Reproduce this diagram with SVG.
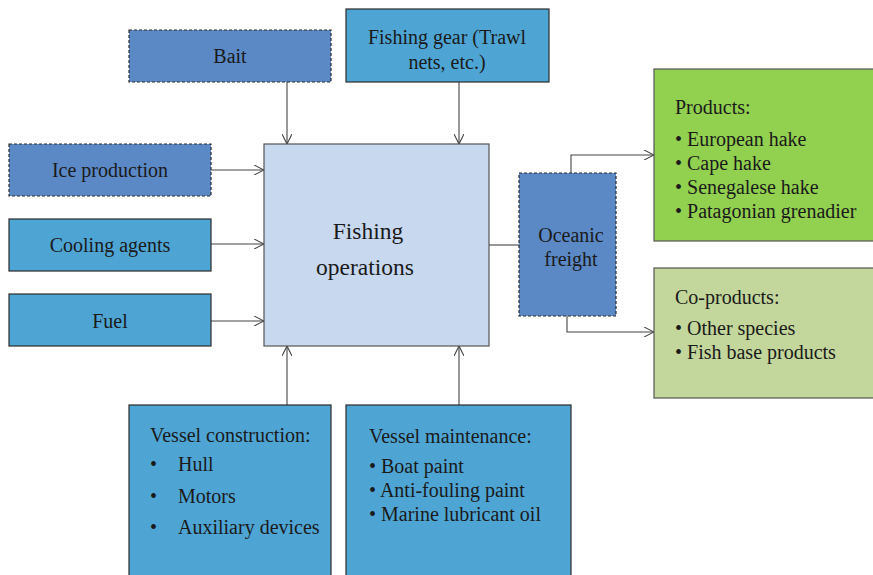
<svg xmlns="http://www.w3.org/2000/svg" width="873" height="575" viewBox="0 0 873 575">
  <defs>
    <style>
      .box { stroke: #2b2b2b; stroke-width: 1.2; }
      .solid { fill: #4ea5d4; }
      .dash { fill: #5b89c6; stroke-dasharray: 3 2; }
      .core { fill: #c7d8ef; stroke: #555; stroke-width: 1.2; }
      .prod { fill: #92d050; stroke: #555; stroke-width: 1.2; }
      .coprod { fill: #c3d69b; stroke: #555; stroke-width: 1.2; }
      text { font-family: "Liberation Serif", "Times New Roman", serif; fill: #1a1a1a; font-size: 20px; }
      .c { text-anchor: middle; }
      .big { font-size: 23.5px; }
      .link { fill: none; stroke: #444; stroke-width: 1.1; }
    </style>
    <marker id="arrow" viewBox="0 0 10 10" refX="10" refY="5" markerWidth="10" markerHeight="10" markerUnits="userSpaceOnUse" orient="auto">
      <path d="M0,0 L10,5 L0,10" fill="none" stroke="#444" stroke-width="1.1"/>
    </marker>
  </defs>

  <g id="connectors">
    <line class="link" x1="287" y1="82" x2="287" y2="144" marker-end="url(#arrow)"/>
    <line class="link" x1="459" y1="82" x2="459" y2="144" marker-end="url(#arrow)"/>
    <line class="link" x1="211" y1="170" x2="264" y2="170" marker-end="url(#arrow)"/>
    <line class="link" x1="211" y1="244" x2="264" y2="244" marker-end="url(#arrow)"/>
    <line class="link" x1="211" y1="321" x2="264" y2="321" marker-end="url(#arrow)"/>
    <line class="link" x1="287" y1="405" x2="287" y2="346" marker-end="url(#arrow)"/>
    <line class="link" x1="459" y1="405" x2="459" y2="346" marker-end="url(#arrow)"/>
    <line class="link" x1="489" y1="245" x2="519" y2="245"/>
    <polyline class="link" points="571,173 571,155 654,155" marker-end="url(#arrow)"/>
    <polyline class="link" points="567,316 567,332 654,332" marker-end="url(#arrow)"/>
  </g>

  <g id="bait">
    <rect class="box dash" x="129" y="30" width="202" height="52"/>
    <text class="c" x="230" y="63">Bait</text>
  </g>

  <g id="fishing-gear">
    <rect class="box solid" x="346" y="9" width="203" height="73"/>
    <text class="c" x="447" y="44">Fishing gear (Trawl</text>
    <text class="c" x="447" y="69">nets, etc.)</text>
  </g>

  <g id="ice-production">
    <rect class="box dash" x="9" y="144" width="202" height="52"/>
    <text class="c" x="110" y="177">Ice production</text>
  </g>

  <g id="cooling-agents">
    <rect class="box solid" x="9" y="219" width="202" height="52"/>
    <text class="c" x="110" y="252">Cooling agents</text>
  </g>

  <g id="fuel">
    <rect class="box solid" x="9" y="294" width="202" height="52"/>
    <text class="c" x="110" y="328">Fuel</text>
  </g>

  <g id="fishing-operations">
    <rect class="core" x="264" y="144" width="225" height="202"/>
    <text class="c big" x="368" y="239">Fishing</text>
    <text class="c big" x="365" y="275">operations</text>
  </g>

  <g id="oceanic-freight">
    <rect class="box dash" x="519" y="173" width="97" height="143"/>
    <text class="c" x="571" y="242">Oceanic</text>
    <text class="c" x="571" y="266">freight</text>
  </g>

  <g id="products">
    <rect class="prod" x="654" y="69" width="225" height="172"/>
    <text x="675" y="114">Products:</text>
    <text x="675" y="146">• European hake</text>
    <text x="675" y="170">• Cape hake</text>
    <text x="675" y="194">• Senegalese hake</text>
    <text x="675" y="218">• Patagonian grenadier</text>
  </g>

  <g id="co-products">
    <rect class="coprod" x="654" y="268" width="225" height="130"/>
    <text x="675" y="304">Co-products:</text>
    <text x="675" y="335">• Other species</text>
    <text x="675" y="359">• Fish base products</text>
  </g>

  <g id="vessel-construction">
    <rect class="box solid" x="129" y="405" width="202" height="180"/>
    <text x="150" y="442">Vessel construction:</text>
    <text x="150" y="471">•</text>
    <text x="178" y="471">Hull</text>
    <text x="150" y="503">•</text>
    <text x="178" y="503">Motors</text>
    <text x="150" y="534">•</text>
    <text x="178" y="534">Auxiliary devices</text>
  </g>

  <g id="vessel-maintenance">
    <rect class="box solid" x="346" y="405" width="225" height="180"/>
    <text x="369" y="443">Vessel maintenance:</text>
    <text x="369" y="473">• Boat paint</text>
    <text x="369" y="497">• Anti-fouling paint</text>
    <text x="369" y="521">• Marine lubricant oil</text>
  </g>
</svg>
